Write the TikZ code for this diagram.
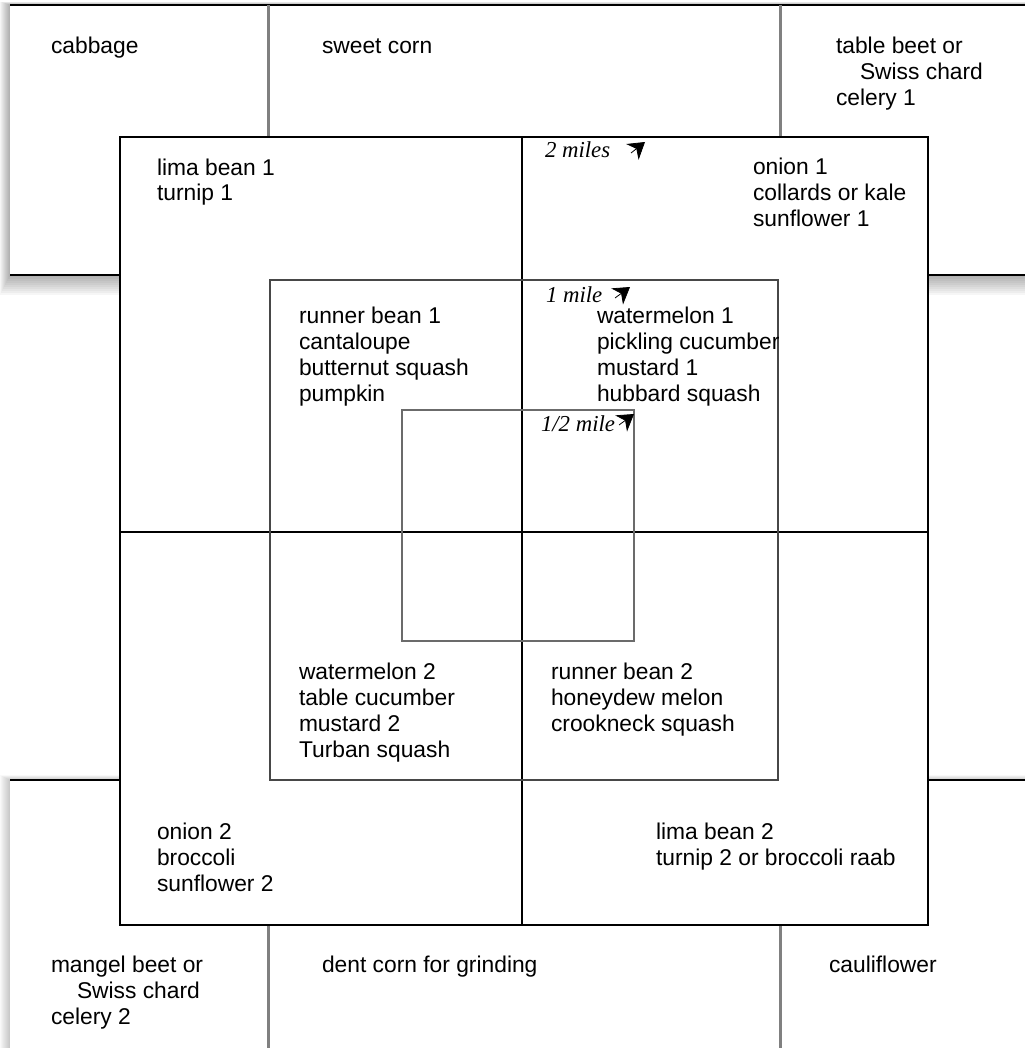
\documentclass[tikz,border=0pt]{standalone}
\usepackage{fontspec}
\setmainfont{Liberation Sans}
\newfontfamily\milefont{Liberation Serif}
\usetikzlibrary{arrows.meta}
\tikzset{
    every node/.style = {
        inner sep = 0pt,
        outer sep = 0pt
    },
    % anchored at the baseline of the last line
    crops/.style = {
        anchor = base west,
        align = left,
        font = \fontsize{11.4}{13}\selectfont
    },
    radius label/.style = {
        anchor = base west,
        font = \fontsize{11.4}{13}\selectfont\milefont\itshape
    },
    strip edge/.style = {
        line width = 1.3pt
    },
    strip divider/.style = {
        draw = black!50,
        line width = 1.5pt
    },
    ring/.style = {
        line width = 1pt
    },
    pointer/.style = {
        -{Stealth[length=8pt, width=10pt, inset=2.5pt]},
        line width = 0.4pt
    }
}

\begin{document}
\begin{tikzpicture}[
        x = 0.5pt,
        y = -0.5pt,
    ]{
        \useasboundingbox (0,0) rectangle (1024,1048);
        % shadows of the outer strips
        \foreach \d in {1,...,10}{
            \fill [black, opacity=0.035] (10-\d,5-\d/3) rectangle (1030,275+2*\d);
            \fill [black, opacity=0.025] (10-\d,780-\d/2) rectangle (1030,1060);
        }
        \fill [white] (10,5) rectangle (1030,275);
        \fill [white] (10,780) rectangle (1030,1060);
        % outer strips
        \draw [strip edge] (10,5) -- (1030,5);
        \draw [strip edge] (10,275) -- (1030,275);
        \draw [strip edge] (10,780) -- (1030,780);
        \draw [strip divider] (268,5) -- (268,275);
        \draw [strip divider] (780,5) -- (780,275);
        \draw [strip divider] (268,780) -- (268,1060);
        \draw [strip divider] (780,780) -- (780,1060);
        % 2 miles
        \draw [ring, fill=white] (120,137) rectangle (928,925);
        \draw [ring] (522,137) -- (522,925);
        \draw [ring] (120,532) -- (928,532);
        % 1 mile
        \draw [ring, draw=black!72, line width=1.1pt] (270,280) rectangle (778,780);
        % 1/2 mile
        \draw [ring, draw=black!58, line width=1.2pt] (402,410) rectangle (634,641);

        \node (cabbage) at (51,54) [crops]{cabbage};
        \node (sweetcorn) at (322,54) [crops]{sweet corn};
        \node (tablebeet) at (836,106) [crops]{table beet or\\\hspace*{12pt}Swiss chard\\celery 1};
        \node (limabean1) at (157,201) [crops]{lima bean 1\\turnip 1};
        \node (onion1) at (753,227) [crops]{onion 1\\collards or kale\\sunflower 1};
        \node (runnerbean1) at (299,401) [crops]{runner bean 1\\cantaloupe\\butternut squash\\pumpkin};
        \node (watermelon1) at (597,401) [crops]{watermelon 1\\pickling cucumber\\mustard 1\\hubbard squash};
        \node (watermelon2) at (299,757) [crops]{watermelon 2\\table cucumber\\mustard 2\\Turban squash};
        \node (runnerbean2) at (551,731) [crops]{runner bean 2\\honeydew melon\\crookneck squash};
        \node (onion2) at (157,891) [crops]{onion 2\\broccoli\\sunflower 2};
        \node (limabean2) at (656,865) [crops]{lima bean 2\\turnip 2 or broccoli raab};
        \node (mangel) at (51,1024) [crops]{mangel beet or\\\hspace*{13pt}Swiss chard\\celery 2};
        \node (dentcorn) at (322,972) [crops]{dent corn for grinding};
        \node (cauliflower) at (829,972) [crops]{cauliflower};

        \node (miles2) at (545,158) [radius label]{2 miles};
        \node (mile1) at (546,302) [radius label]{1 mile};
        \node (halfmile) at (541,431) [radius label]{1/2 mile};
        \coordinate (miles2 tail) at (631,153);
        \coordinate (miles2 tip) at (645,142);
        \coordinate (mile1 tail) at (615,298);
        \coordinate (mile1 tip) at (630,287);
        \coordinate (halfmile tail) at (619,425);
        \coordinate (halfmile tip) at (634,414);
        \draw [pointer] (miles2 tail) -- (miles2 tip);
        \draw [pointer] (mile1 tail) -- (mile1 tip);
        \draw [pointer] (halfmile tail) -- (halfmile tip);
    }
\end{tikzpicture}
\end{document}
